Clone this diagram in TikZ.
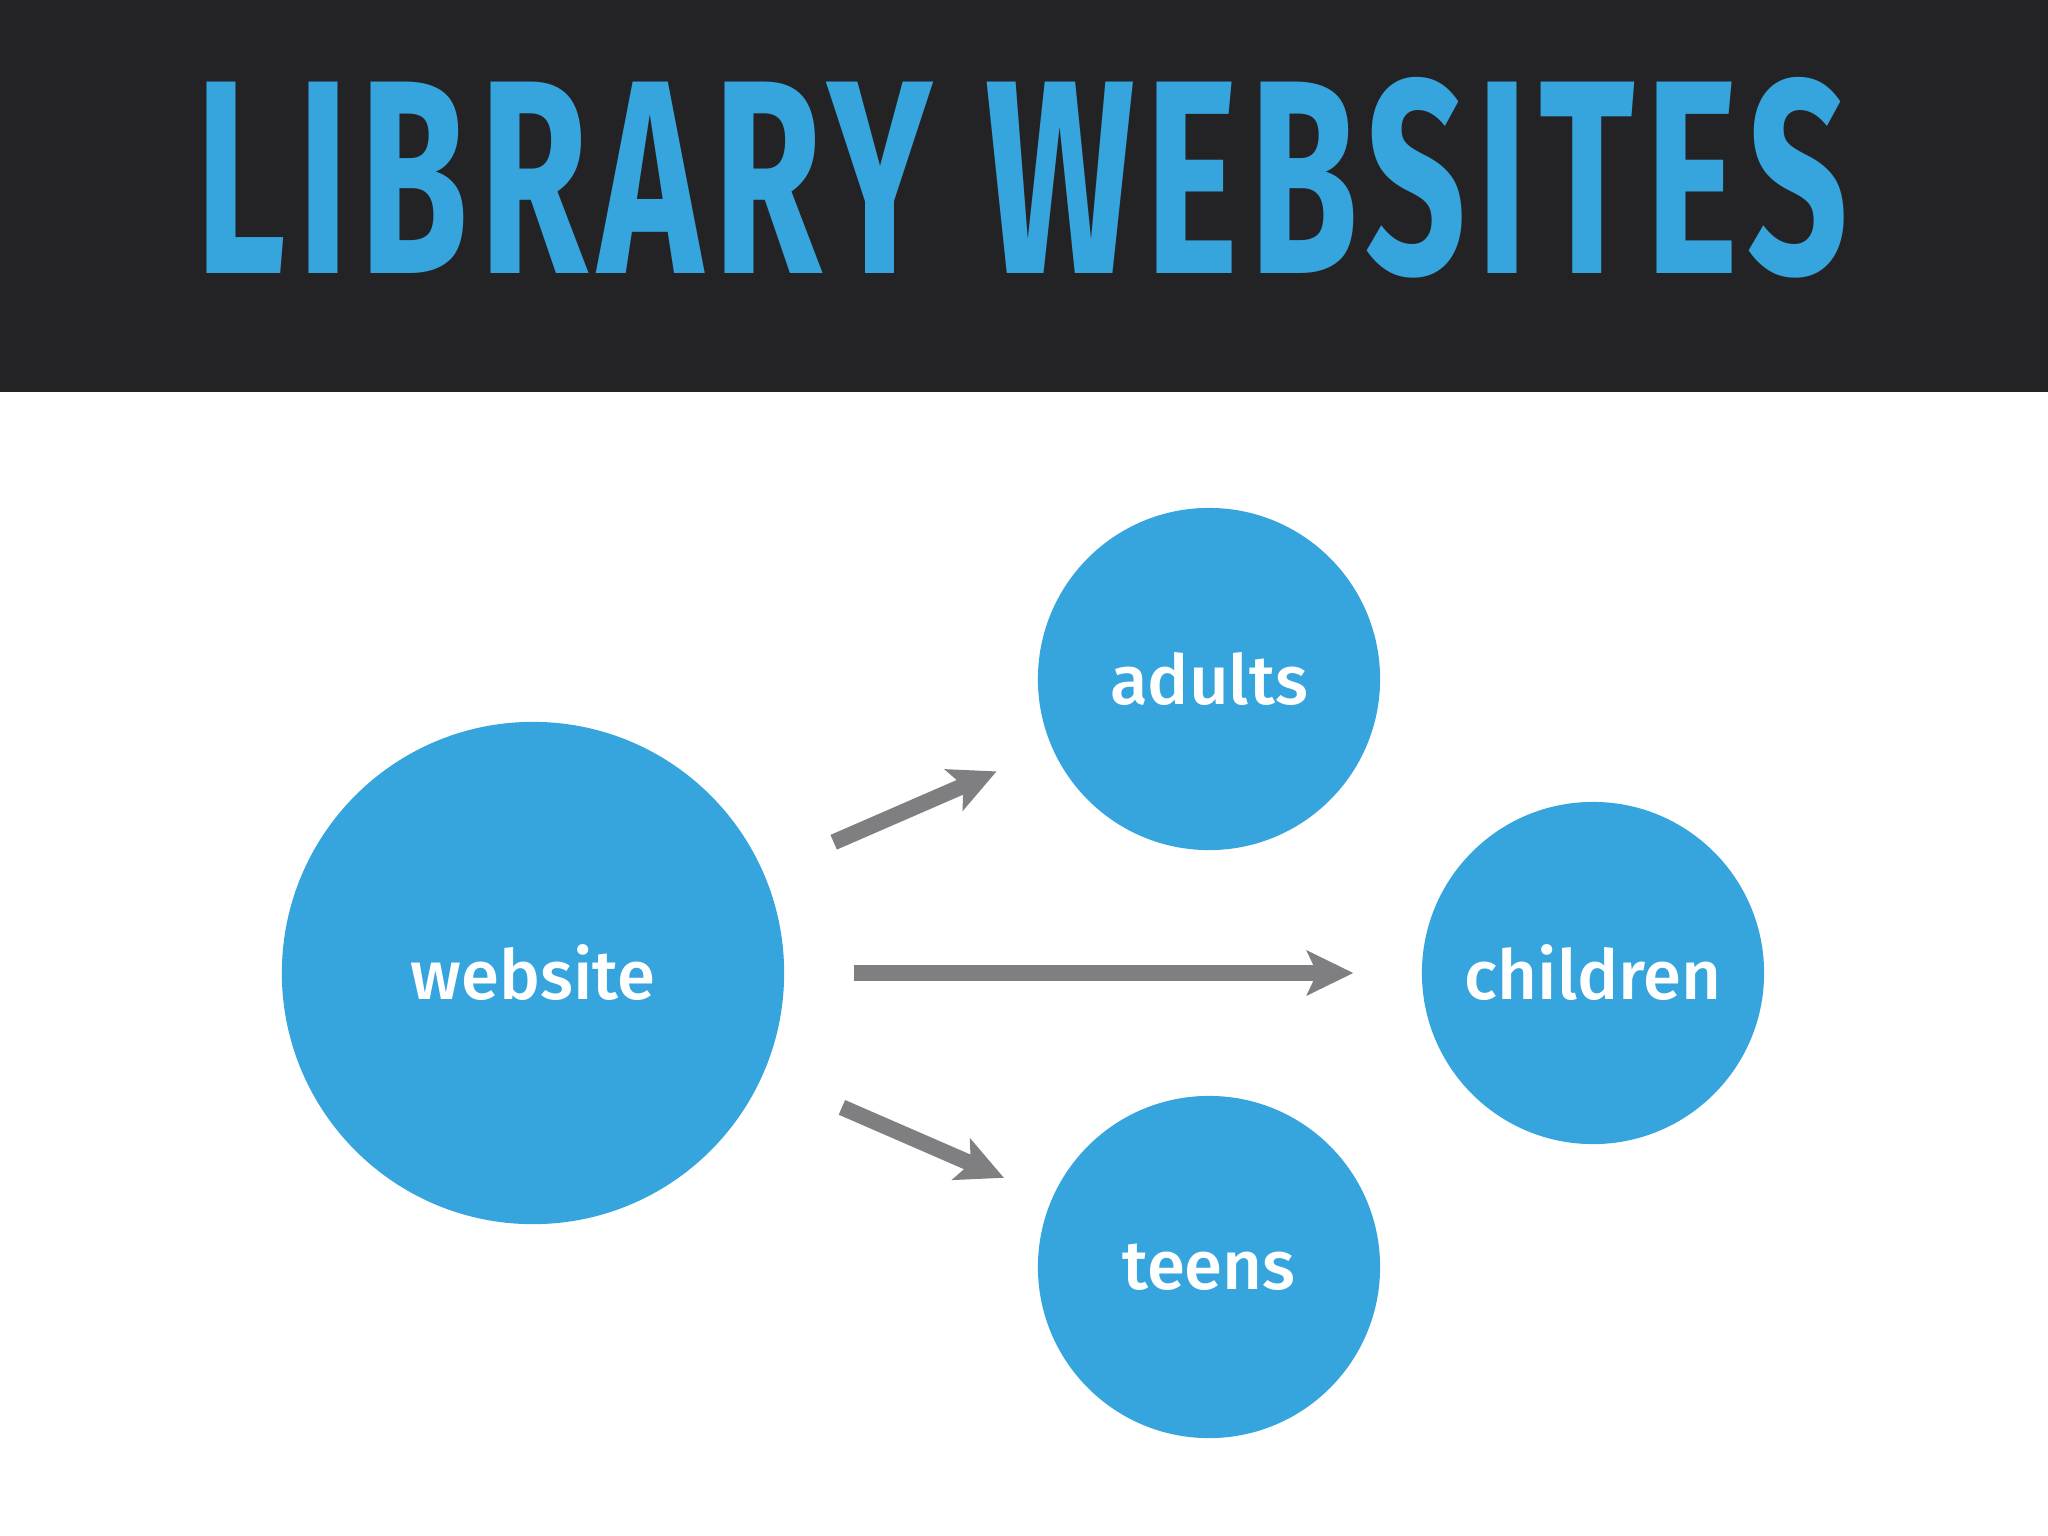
\documentclass[tikz,border=0pt]{standalone}
\usepackage{fontspec}
\setmainfont{Fira Sans Medium}
\newfontfamily\titlefont[LetterSpace=6]{Fira Sans}
\usetikzlibrary{arrows.meta}
\definecolor{bandblack}{HTML}{232224}
\definecolor{bubbleblue}{HTML}{36A4DD}
\definecolor{arrowgray}{HTML}{7F7E80}

\begin{document}
\begin{tikzpicture}[x=0.01cm, y=-0.01cm,
		bubble/.style={circle, fill=bubbleblue, text=white, inner sep=0pt, font=\fontsize{19.6}{24}\selectfont},
		link/.style={draw=arrowgray, line width=0.16cm, -{Stealth[length=0.47cm, width=0.46cm, inset=0.11cm, line width=0pt]}}]
				\useasboundingbox (0,0) rectangle (2048,1536);
				\fill[white] (0,0) rectangle (2048,1536);
				\fill[bandblack] (0,0) rectangle (2048,392);
				
				\node[text=bubbleblue, inner sep=0pt] (title) at (1022,178) {\resizebox{16.51cm}{1.96cm}{\titlefont\bfseries LIBRARY WEBSITES}};
				
				\node[bubble, minimum size=5.02cm] (website) at (533,973) {website};
				\node[bubble, minimum size=3.42cm] (adults) at (1209,679) {adults};
				\node[bubble, minimum size=3.42cm] (children) at (1593,973) {children};
				\node[bubble, minimum size=3.42cm] (teens) at (1209,1267) {teens};
				
				\draw[link, shorten <=0.76cm, shorten >=0.60cm] (website) -- (adults);
				\draw[link, shorten <=0.69cm, shorten >=0.68cm] (website) -- (children);
				\draw[link, shorten <=0.85cm, shorten >=0.52cm] (website) -- (teens);
			\end{tikzpicture}
\end{document}
